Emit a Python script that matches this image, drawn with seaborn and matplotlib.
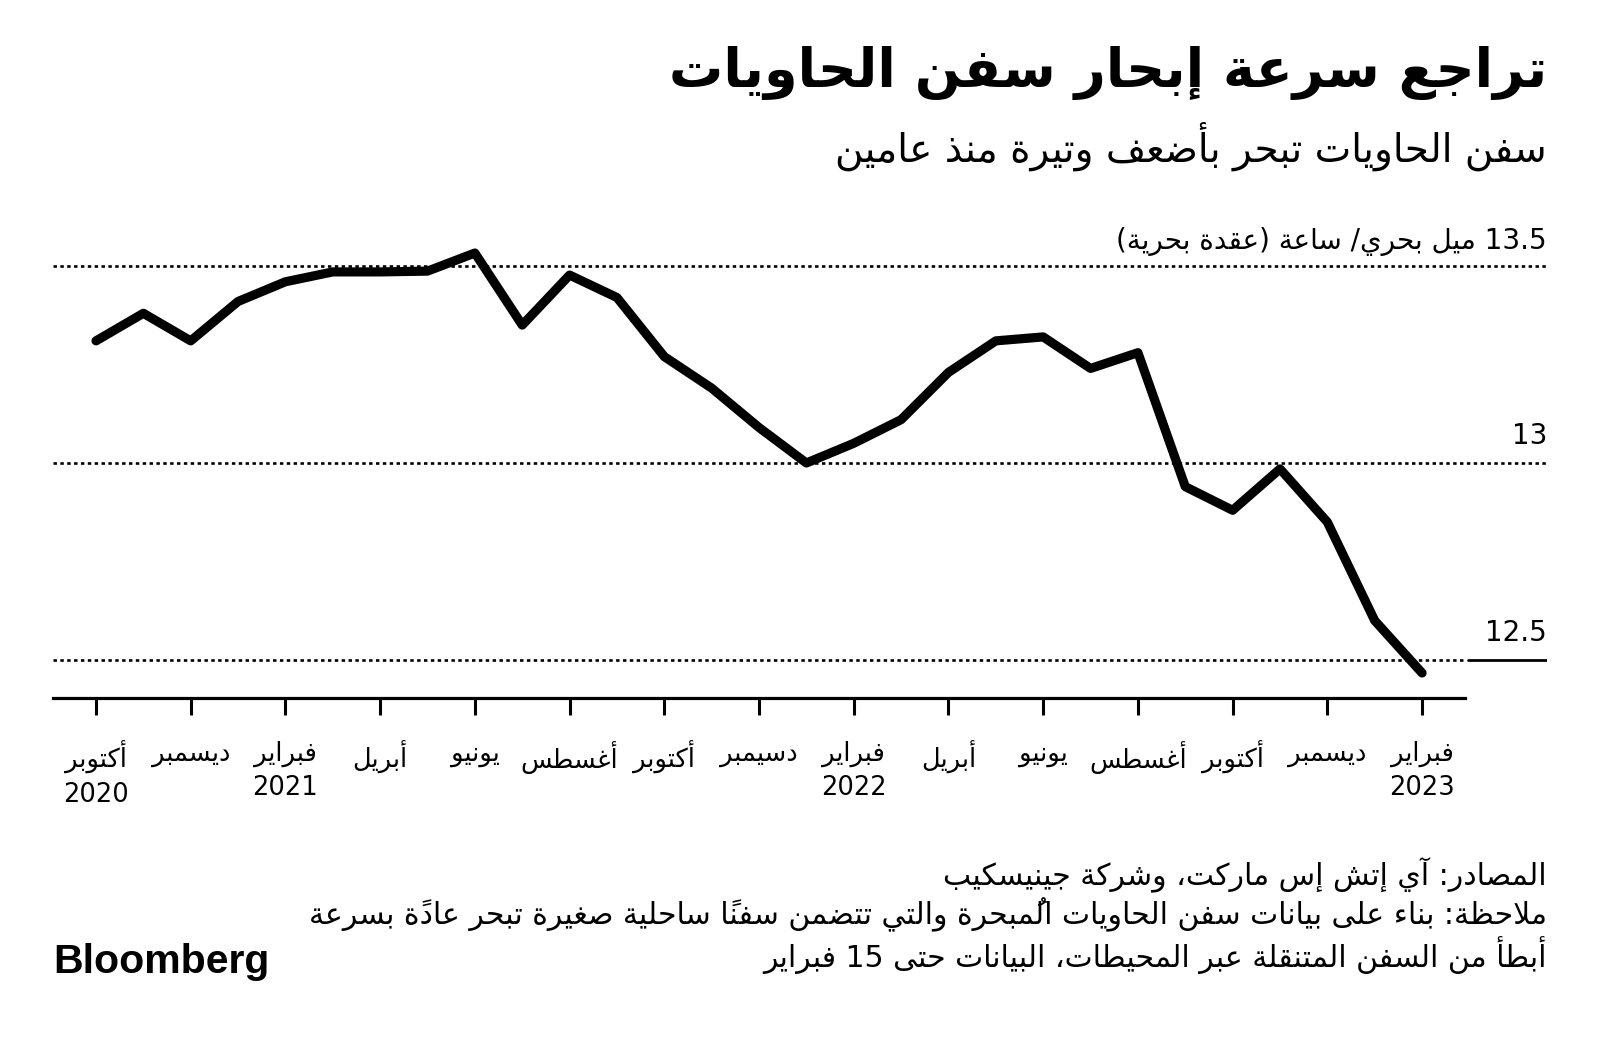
import numpy as np
import pandas as pd
import matplotlib
matplotlib.use("Agg")
import matplotlib.pyplot as plt
import seaborn as sns
from matplotlib.transforms import blended_transform_factory

# ---------------- data ----------------
months = ["2020-10", "2020-11", "2020-12", "2021-01", "2021-02", "2021-03", "2021-04",
          "2021-05", "2021-06", "2021-07", "2021-08", "2021-09", "2021-10", "2021-11",
          "2021-12", "2022-01", "2022-02", "2022-03", "2022-04", "2022-05", "2022-06",
          "2022-07", "2022-08", "2022-09", "2022-10", "2022-11", "2022-12", "2023-01",
          "2023-02"]
speed = [13.31, 13.38, 13.31, 13.41, 13.46, 13.485, 13.485, 13.487, 13.533, 13.35,
         13.477, 13.42, 13.27, 13.19, 13.09, 13.00, 13.05, 13.11, 13.23, 13.31,
         13.32, 13.24, 13.28, 12.94, 12.88, 12.985, 12.85, 12.60, 12.467]
tick_months = ["أكتوبر", "ديسمبر", "فبراير", "أبريل", "يونيو", "أغسطس", "أكتوبر",
               "دسيمبر", "فبراير", "أبريل", "يونيو", "أغسطس", "أكتوبر", "ديسمبر", "فبراير"]
tick_years = ["2020", "", "2021", "", "", "", "", "", "2022", "", "", "", "", "", "2023"]
y_ticks = [12.5, 13.0, 13.5]
y_labels = ["12.5", "13", "13.5 ميل بحري/ ساعة (عقدة بحرية)"]

title = "تراجع سرعة إبحار سفن الحاويات"
subtitle = "سفن الحاويات تبحر بأضعف وتيرة منذ عامين"
notes = ["المصادر: آي إتش إس ماركت، وشركة جينيسكيب",
         "ملاحظة: بناء على بيانات سفن الحاويات المُبحرة والتي تتضمن سفناً ساحلية صغيرة تبحر عادةً بسرعة",
         "أبطأ من السفن المتنقلة عبر المحيطات، البيانات حتى 15 فبراير"]
brand = "Bloomberg"

# ---------------- Arabic shaping (contextual forms + RTL ordering) ----------------
_FORMS = {
    0x0621: (0xFE80, 1), 0x0622: (0xFE81, 2), 0x0623: (0xFE83, 2), 0x0624: (0xFE85, 2),
    0x0625: (0xFE87, 2), 0x0626: (0xFE89, 4), 0x0627: (0xFE8D, 2), 0x0628: (0xFE8F, 4),
    0x0629: (0xFE93, 2), 0x062A: (0xFE95, 4), 0x062B: (0xFE99, 4), 0x062C: (0xFE9D, 4),
    0x062D: (0xFEA1, 4), 0x062E: (0xFEA5, 4), 0x062F: (0xFEA9, 2), 0x0630: (0xFEAB, 2),
    0x0631: (0xFEAD, 2), 0x0632: (0xFEAF, 2), 0x0633: (0xFEB1, 4), 0x0634: (0xFEB5, 4),
    0x0635: (0xFEB9, 4), 0x0636: (0xFEBD, 4), 0x0637: (0xFEC1, 4), 0x0638: (0xFEC5, 4),
    0x0639: (0xFEC9, 4), 0x063A: (0xFECD, 4), 0x0641: (0xFED1, 4), 0x0642: (0xFED5, 4),
    0x0643: (0xFED9, 4), 0x0644: (0xFEDD, 4), 0x0645: (0xFEE1, 4), 0x0646: (0xFEE5, 4),
    0x0647: (0xFEE9, 4), 0x0648: (0xFEED, 2), 0x0649: (0xFEEF, 2), 0x064A: (0xFEF1, 4),
}
_LAMALEF = {0x0622: 0xFEF5, 0x0623: 0xFEF7, 0x0625: 0xFEF9, 0x0627: 0xFEFB}
_MIRROR = {"(": ")", ")": "("}


def _is_mark(ch):
    o = ord(ch)
    return 0x064B <= o <= 0x065F or o == 0x0670


def _nforms(b):
    if isinstance(b, tuple):
        return 2
    return _FORMS.get(ord(b), (0, 0))[1]


def _shape(s):
    clusters = []
    for ch in s:
        if _is_mark(ch) and clusters:
            clusters[-1][1] += ch
        else:
            clusters.append([ch, ""])
    merged = []
    i = 0
    while i < len(clusters):
        b, m = clusters[i]
        if (b == "\u0644" and i + 1 < len(clusters)
                and ord(clusters[i + 1][0]) in _LAMALEF):
            merged.append([("LA", ord(clusters[i + 1][0])), m + clusters[i + 1][1]])
            i += 2
        else:
            merged.append([b, m])
            i += 1
    out = []
    for k, (b, m) in enumerate(merged):
        prev = merged[k - 1][0] if k > 0 else None
        nxt = merged[k + 1][0] if k + 1 < len(merged) else None
        lam_prev = prev is not None and _nforms(prev) == 4
        if isinstance(b, tuple):
            g = chr(_LAMALEF[b[1]] + (1 if lam_prev else 0))
        elif ord(b) in _FORMS:
            start, n = _FORMS[ord(b)]
            cp = lam_prev and n >= 2
            cn = n == 4 and nxt is not None and _nforms(nxt) >= 2
            if n == 1:
                idx = 0
            elif n == 2:
                idx = 1 if cp else 0
            else:
                idx = 3 if (cp and cn) else 1 if cp else 2 if cn else 0
            g = chr(start + idx)
        else:
            g = b
        out.append(g + m)
    return out


def ar(s):
    cl = _shape(s)
    n = len(cl)

    def is_ltr(k):
        c = cl[k][0]
        if c.isascii() and c.isalnum():
            return True
        if c == "." and 0 < k < n - 1 and cl[k - 1][0].isdigit() and cl[k + 1][0].isdigit():
            return True
        return False

    runs = []
    for k in range(n):
        l = is_ltr(k)
        if runs and runs[-1][0] == l:
            runs[-1][1].append(cl[k])
        else:
            runs.append([l, [cl[k]]])
    vis = []
    for l, items in reversed(runs):
        if l:
            vis.extend(items)
        else:
            vis.extend(_MIRROR.get(c, c) for c in reversed(items))
    return "".join(vis)


# ---------------- figure ----------------
sns.set_theme(style="white")
plt.rcParams["font.family"] = ["DejaVu Sans"]
plt.rcParams["text.color"] = "black"

W, H = 1600, 1039
fig = plt.figure(figsize=(W / 100, H / 100), dpi=100)
fig.patch.set_facecolor("white")

px_left, px_right, px_top, px_bottom = 53, 1547, 230, 698
ax = fig.add_axes([px_left / W, 1 - px_bottom / H,
                   (px_right - px_left) / W, (px_bottom - px_top) / H])

df = pd.DataFrame({"month": months, "speed": speed})
df["i"] = np.arange(len(df))

sns.lineplot(data=df, x="i", y="speed", color="black", linewidth=6.6, ax=ax)
ln = ax.lines[0]
ln.set_solid_capstyle("round")
ln.set_solid_joinstyle("round")
ln.set_zorder(5)

x_per = 47.36
x0 = -(96 - px_left) / x_per
x1 = (px_right - 96) / x_per
ax.set_xlim(x0, x1)
y_per = 394.0
ax.set_ylim(12.5 - (px_bottom - 660) / y_per, 13.5 + (266 - px_top) / y_per)

axis_end = (1465 - px_left) / (px_right - px_left)
dot = (0, (1.3, 1.3))
for v in y_ticks:
    if v == min(y_ticks):
        ax.axhline(v, xmin=0, xmax=axis_end - 0.001, color="black", lw=1.9, ls=dot, zorder=1)
        ax.axhline(v, xmin=axis_end + 0.002, xmax=1, color="black", lw=2.0, ls="-", zorder=1)
    else:
        ax.axhline(v, xmin=0, xmax=1, color="black", lw=1.9, ls=dot, zorder=1)

trans = blended_transform_factory(ax.transAxes, ax.transData)
for v, lab in zip(y_ticks, y_labels):
    off = 12 if v == max(y_ticks) else 14
    ax.annotate(ar(lab), xy=(1.0, v), xycoords=trans, xytext=(0, off),
                textcoords="offset points", ha="right", va="baseline",
                fontsize=20, color="black")

for sp in ["top", "right", "left"]:
    ax.spines[sp].set_visible(False)
ax.spines["bottom"].set_color("black")
ax.spines["bottom"].set_linewidth(2.3)
ax.spines["bottom"].set_bounds(x0, (1465 - 96) / x_per)

tick_pos = df["i"].values[::2]
labels = [ar(m) + ("\n" + y if y else "") for m, y in zip(tick_months, tick_years)]
ax.set_xticks(tick_pos)
ax.set_xticklabels(labels, fontsize=18.5, linespacing=1.4, va="top", color="black")
ax.tick_params(axis="x", direction="out", length=12, width=2.2, color="black", pad=19,
               bottom=True, labelcolor="black")
ax.set_yticks([])
ax.set_xlabel("")
ax.set_ylabel("")
ax.grid(False)

# ---------------- texts ----------------
fig.text(px_right / W, 1 - 73 / H, ar(title), ha="right", va="center",
         fontsize=39, fontweight="bold", color="black")
fig.text(px_right / W, 1 - 146 / H, ar(subtitle), ha="right", va="center",
         fontsize=28, color="black")
for k, t in enumerate(notes):
    fig.text(px_right / W, 1 - (875 + 40 * k) / H, ar(t), ha="right", va="center",
             fontsize=21.5, color="black")
fig.text(px_left / W, 1 - 962 / H, brand, ha="left", va="center",
         fontsize=29.5, fontweight="bold", family=["Liberation Sans", "DejaVu Sans"],
         color="black")

fig.savefig("out.png", dpi=100, facecolor="white")
